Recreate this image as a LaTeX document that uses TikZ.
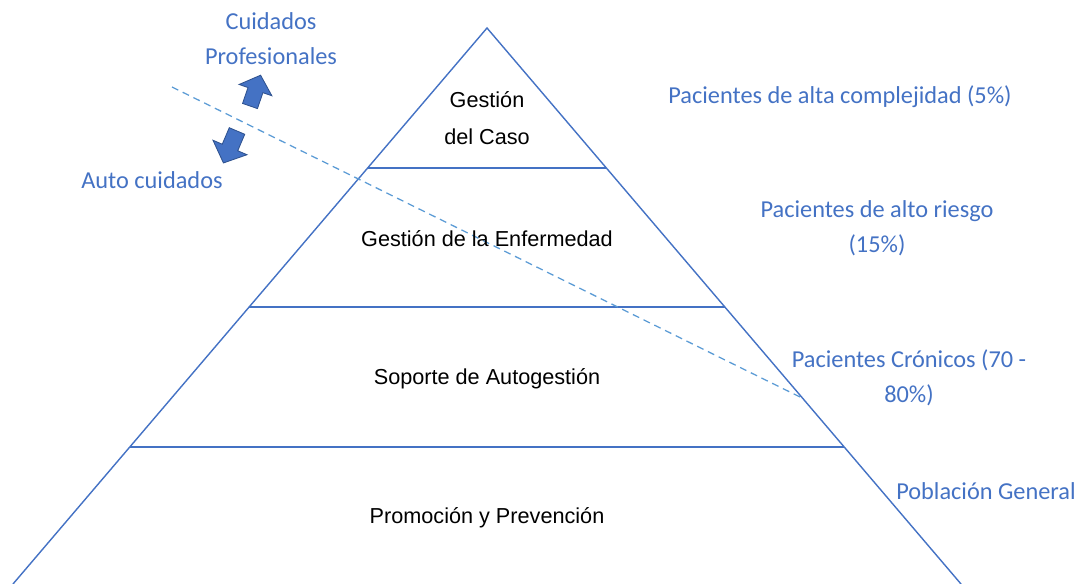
\documentclass[tikz,border=0pt]{standalone}
\usepackage{fontspec}
\setmainfont{Liberation Sans}
\newfontfamily\calibri{Carlito}
\usetikzlibrary{calc}
\definecolor{pyrblue}{HTML}{4472C4}
\definecolor{dashblue}{HTML}{5B9BD5}
\definecolor{edgeblue}{HTML}{2F528F}
\tikzset{>=stealth,
  level/.style={font=\fontsize{15.4}{26.3}\selectfont, align=center},
  side/.style={text=pyrblue, font=\calibri\fontsize{17.3}{24.9}\selectfont, align=center},
  blockarrow/.pic={
    \filldraw[fill=pyrblue, draw=edgeblue, line width=0.6pt]
      (0,-7.5) -- (16,-7.5) -- (16,-16.5) -- (31,0) -- (16,16.5) -- (16,7.5) -- (0,7.5) -- cycle;}
}

\begin{document}
\begin{tikzpicture}[x=0.025cm, y=-0.025cm]
  \useasboundingbox (0,0) rectangle (1080,584);
  \coordinate (A) at (487,28);
  \coordinate (L) at (13,584);
  \coordinate (R) at (961,584);
  \draw[pyrblue, line width=1pt] (L) -- (A) -- (R);
  \foreach \f in {0.2518,0.5018,0.7536}
    \draw[pyrblue, line width=1pt] ($(A)!\f!(L)$) -- ($(A)!\f!(R)$);
  % dashed split line
  \coordinate (D1) at (172,87);
  \coordinate (D2) at (800,397);
  \draw[dashblue, line width=0.9pt, dash pattern=on 5pt off 3.5pt] (D1) -- (D2);
  % levels
  \node[level] (caso) at (487,118) {Gestión\\del Caso};
  \node[level] (enf) at (487,239) {Gestión de la Enfermedad};
  \node[level] (sop) at (487,379) {Soporte de Autogestión};
  \node[level] (pro) at (487,518) {Promoción y Prevención};
  % side labels
  \node[side] (prof) at (271,39) {Cuidados\\Profesionales};
  \node[side] (auto) at (152,180) {Auto cuidados};
  \node[side] (p5) at (840,97) {Pacientes de alta complejidad (5\%)};
  \node[side] (p15) at (877,228) {Pacientes de alto riesgo\\(15\%)};
  \node[side] (p70) at (909,378) {Pacientes Crónicos (70 -\\80\%)};
  \node[side] (gen) at (986,491) {Población General};
  % arrows
  \pic[shift={(250,106)}, rotate=71, scale=1.05] {blockarrow};
  \pic[shift={(237,131)}, rotate=247, scale=1.12] {blockarrow};
\end{tikzpicture}
\end{document}
